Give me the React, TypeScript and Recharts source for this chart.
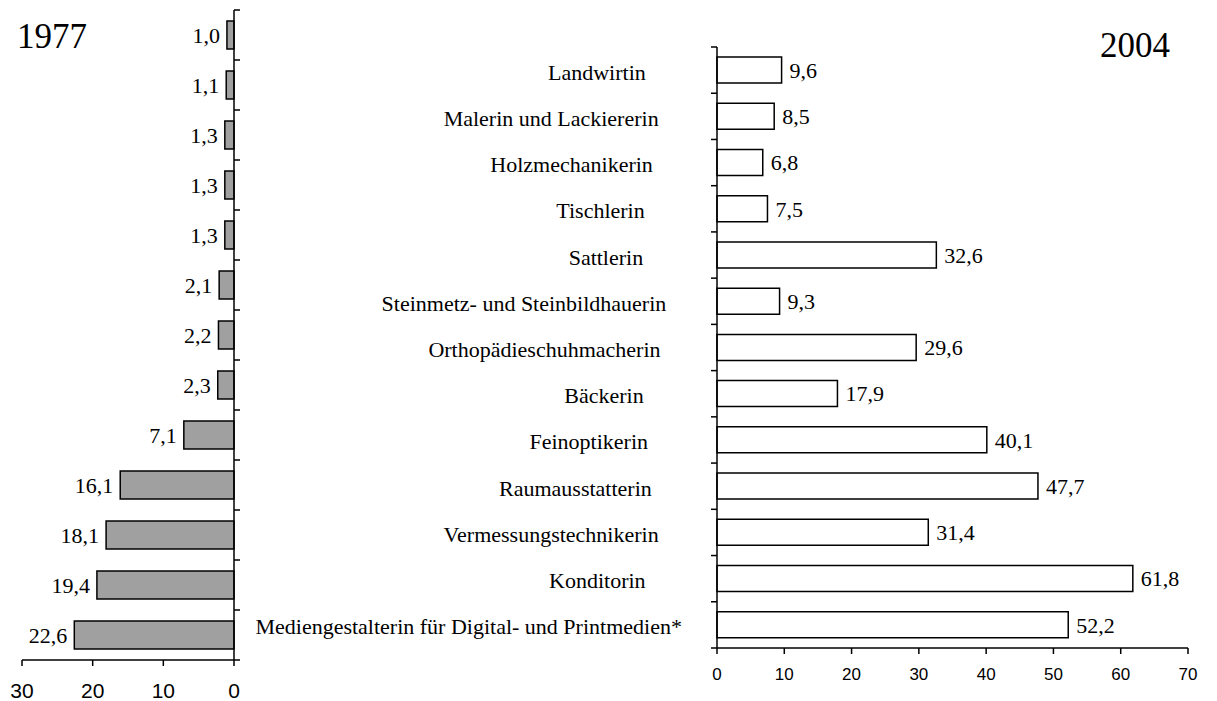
import { BarChart, Bar, XAxis, YAxis, LabelList } from "recharts"

const occupations = [
  "Landwirtin",
  "Malerin und Lackiererin",
  "Holzmechanikerin",
  "Tischlerin",
  "Sattlerin",
  "Steinmetz- und Steinbildhauerin",
  "Orthopädieschuhmacherin",
  "Bäckerin",
  "Feinoptikerin",
  "Raumausstatterin",
  "Vermessungstechnikerin",
  "Konditorin",
  "Mediengestalterin für Digital- und Printmedien*"
]
const share1977 = [1.0, 1.1, 1.3, 1.3, 1.3, 2.1, 2.2, 2.3, 7.1, 16.1, 18.1, 19.4, 22.6]
const share2004 = [9.6, 8.5, 6.8, 7.5, 32.6, 9.3, 29.6, 17.9, 40.1, 47.7, 31.4, 61.8, 52.2]
const ticks1977 = [0, 10, 20, 30]
const ticks2004 = [0, 10, 20, 30, 40, 50, 60, 70]

const data = occupations.map((name, i) => ({ name, v1977: share1977[i], v2004: share2004[i] }))
const last = occupations.length - 1

const SERIF = '"Liberation Serif", "Times New Roman", serif'
const SANS = '"Liberation Sans", Arial, sans-serif'
const line = { stroke: "#000", strokeWidth: 1.5 }
const noTickLine = { stroke: "none" }

const fmt = (v: any) => Number(v).toFixed(1).replace(".", ",")

let ctx: CanvasRenderingContext2D | null = null
function textWidth(s: string) {
  if (!ctx) ctx = document.createElement("canvas").getContext("2d")
  if (!ctx) return s.length * 9
  ctx.font = '22px "Liberation Serif"'
  return ctx.measureText(s).width
}

// left panel: axis on the right, small ticks between the bands
function leftTick(p: any) {
  const band = 650 / occupations.length
  const ax = p.x - 6
  return (
    <g>
      <line x1={ax} x2={ax + 6} y1={p.y - band / 2} y2={p.y - band / 2} {...line} />
      {p.index === last && <line x1={ax} x2={ax + 6} y1={p.y + band / 2} y2={p.y + band / 2} {...line} />}
    </g>
  )
}

// right panel: occupation names plus ticks between the bands
function rightTick(p: any) {
  const band = 601 / occupations.length
  const ax = p.x + 6
  const s = String(p.payload.value)
  const w = textWidth(s)
  return (
    <g>
      <line x1={ax - 6} x2={ax} y1={p.y - band / 2} y2={p.y - band / 2} {...line} />
      {p.index === last && <line x1={ax - 6} x2={ax} y1={p.y + band / 2} y2={p.y + band / 2} {...line} />}
      <text
        x={ax - 82 + 0.11 * w}
        y={p.y + 2}
        textAnchor="end"
        dominantBaseline="central"
        fontFamily={SERIF}
        fontSize={22}
        fill="#000"
      >
        {s}
      </text>
    </g>
  )
}

export default function App() {
  return (
    <div style={{ position: "absolute", left: 0, top: 0, width: 1217, height: 701, background: "#fff" }}>
      <div style={{ position: "absolute", left: 0, top: 0 }}>
        <BarChart
          width={300}
          height={701}
          data={data}
          layout="vertical"
          margin={{ top: 10, right: 0, bottom: 0, left: 22 }}
        >
          <XAxis
            type="number"
            domain={[0, 30]}
            ticks={ticks1977}
            reversed
            height={41}
            tickSize={6}
            tickMargin={17}
            axisLine={line}
            tickLine={line}
            tick={{ fill: "#000", fontSize: 21, fontFamily: SANS }}
          />
          <YAxis
            type="category"
            dataKey="name"
            orientation="right"
            width={66}
            interval={0}
            tickSize={6}
            tickMargin={0}
            axisLine={line}
            tickLine={noTickLine}
            tick={leftTick}
          />
          <Bar dataKey="v1977" barSize={28} fill="#a0a0a0" stroke="#000" strokeWidth={1.5} isAnimationActive={false}>
            <LabelList
              dataKey="v1977"
              position="right"
              offset={7}
              formatter={fmt}
              fill="#000"
              fontSize={22}
              fontFamily={SERIF}
            />
          </Bar>
        </BarChart>
      </div>

      <div style={{ position: "absolute", left: 240, top: 0 }}>
        <BarChart
          width={977}
          height={701}
          data={data}
          layout="vertical"
          margin={{ top: 47, right: 29, bottom: 0, left: 0 }}
        >
          <XAxis
            type="number"
            domain={[0, 70]}
            ticks={ticks2004}
            height={53}
            tickSize={6}
            tickMargin={14}
            axisLine={line}
            tickLine={line}
            tick={{ fill: "#000", fontSize: 17, fontFamily: SANS }}
          />
          <YAxis
            type="category"
            dataKey="name"
            orientation="left"
            width={477}
            interval={0}
            tickSize={6}
            tickMargin={0}
            axisLine={line}
            tickLine={noTickLine}
            tick={rightTick}
          />
          <Bar dataKey="v2004" barSize={26} fill="#fff" stroke="#000" strokeWidth={1.5} isAnimationActive={false}>
            <LabelList
              dataKey="v2004"
              position="right"
              offset={8}
              formatter={fmt}
              fill="#000"
              fontSize={22}
              fontFamily={SERIF}
            />
          </Bar>
        </BarChart>
      </div>

      <svg width={1217} height={701} style={{ position: "absolute", left: 0, top: 0, pointerEvents: "none" }}>
        <text x={17} y={48} fontFamily={SERIF} fontSize={35} fill="#000">1977</text>
        <text x={1100} y={57} fontFamily={SERIF} fontSize={35} fill="#000">2004</text>
      </svg>
    </div>
  )
}
